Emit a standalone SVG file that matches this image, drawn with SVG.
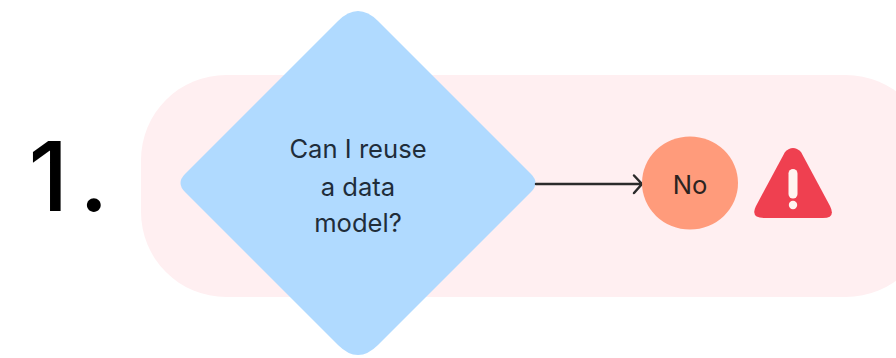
<svg xmlns="http://www.w3.org/2000/svg" width="896" height="358" viewBox="0 0 896 358">
<style>
text{font-family:Inter,"Liberation Sans",sans-serif;text-anchor:middle}
.l{font-size:25.6px;fill:#1f2d3a}
.c{fill:none;stroke:#2b2b2b;stroke-width:2.5;stroke-linecap:round;stroke-linejoin:round}
</style>
<rect width="896" height="358" fill="#fff"/>
<g id="step-number"><text x="74" y="211" font-size="96" font-weight="500" letter-spacing="11" fill="#000">1.</text></g>
<g id="band"><rect x="141" y="75" width="790" height="222" rx="85" fill="#ffeff1"/></g>
<g id="decision">
<path d="M338 21Q358 1 378 21L531 174Q540 183 531 192L378 345Q358 365 338 345L185 192Q176 183 185 174Z" fill="#b0daff"/>
<text class="l" x="358" y="158">Can I reuse</text>
<text class="l" x="358" y="196">a data</text>
<text class="l" x="358" y="232">model?</text>
</g>
<g id="connectors">
<path class="c" d="M536 184H641M634 175.500L642 184L634 193"/>
</g>
<g id="no">
<ellipse cx="690" cy="183" rx="48" ry="46.500" fill="#ff9b7b"/>
<text x="690" y="194" font-size="25.6" fill="#2b2320">No</text>
</g>
<g id="warning">
<path d="M785 152Q793 144 801 152L830 206Q836 218 823 218H764Q750 218 756 206Z" fill="#ef4050"/>
<rect x="788.500" y="169" width="9" height="29.500" rx="4.500" fill="#fff4f0"/>
<circle cx="793" cy="205" r="4.200" fill="#fff4f0"/>
</g>
</svg>
